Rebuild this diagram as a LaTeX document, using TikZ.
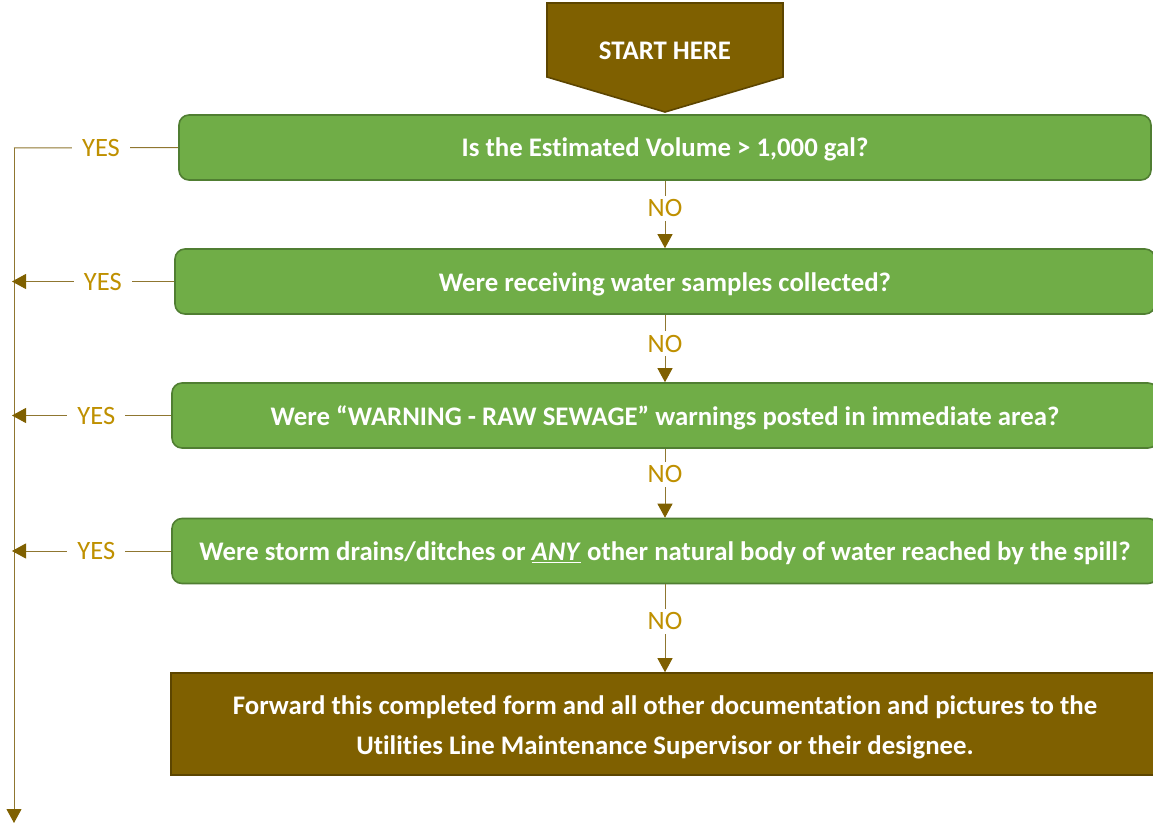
\documentclass[tikz,border=0pt]{standalone}
\usepackage{fontspec}
\setmainfont{Carlito}[Ligatures=NoCommon]
\usetikzlibrary{arrows.meta}

\definecolor{qfill}{HTML}{70AD47}
\definecolor{qedge}{HTML}{507E32}
\definecolor{bfill}{HTML}{7F6000}
\definecolor{bedge}{HTML}{5C4500}
\definecolor{lblgold}{HTML}{BF9000}
\definecolor{wire}{HTML}{8F7630}

\tikzset{
  qbox/.style={draw=qedge, line width=1.6pt, fill=qfill, rounded corners=10pt,
    minimum height=65pt, text=white, font=\fontsize{26.8}{30}\selectfont\bfseries,
    inner sep=0pt, text height=23pt, text depth=4pt},
  endbox/.style={draw=bedge, line width=1.6pt, fill=bfill, minimum height=102pt,
    text=white, font=\fontsize{26.8}{40}\selectfont\bfseries, align=center, inner sep=0pt,
    text height=65.2pt, text depth=4pt},
  conn/.style={draw=wire, line width=1pt,
    -{Triangle[length=14pt,width=15pt,color=bfill]}},
  wirebare/.style={draw=wire, line width=1pt},
  choice/.style={fill=white, text=lblgold, font=\fontsize{26.5}{30}\selectfont,
    inner xsep=10pt, inner ysep=2pt},
}

\begin{document}
\begin{tikzpicture}[x=1pt,y=-1pt]
\useasboundingbox (0,0) rectangle (1153,824);
\clip (0,0) rectangle (1153,824);

% start banner
\draw[draw=bedge, line width=1.6pt, fill=bfill]
  (547,3) -- (783,3) -- (783,77) -- (665,112) -- (547,77) -- cycle;
\node[text=white, font=\fontsize{26.8}{30}\selectfont\bfseries] (start) at (665,51) {START HERE};

% decision boxes
\node[qbox, minimum width=972pt] (q1) at (665,147.5) {Is the Estimated Volume > 1,000 gal?};
\node[qbox, minimum width=980pt] (q2) at (665,281.5) {Were receiving water samples collected?};
\node[qbox, minimum width=986pt] (q3) at (665,415.5) {Were “WARNING - RAW SEWAGE” warnings posted in immediate area?};
\node[qbox, minimum width=986pt] (q4) at (665,551) {Were storm drains/ditches or \underline{\textit{ANY}} other natural body of water reached by the spill?};

% final instruction
\node[endbox, minimum width=988pt] (done) at (665,724) {Forward this completed form and all other documentation and pictures to the\\Utilities Line Maintenance Supervisor or their designee.};

% rail on the left
\coordinate (railtop) at (14,148);
\coordinate (railend) at (14,823);

% NO connectors
\draw[conn] (q1.south) -- node[choice, pos=0.41, inner xsep=2pt, inner ysep=4pt] {NO} (q2.north);
\draw[conn] (q2.south) -- node[choice, pos=0.43, inner xsep=2pt, inner ysep=4pt] {NO} (q3.north);
\draw[conn] (q3.south) -- node[choice, pos=0.37, inner xsep=2pt, inner ysep=4pt] {NO} (q4.north);
\draw[conn] (q4.south) -- node[choice, pos=0.42, inner xsep=2pt, inner ysep=4pt] {NO} (done.north);

% YES connectors
\draw[conn] (railtop) -- (railend);
\draw[wirebare] (q1.west) -- node[choice, pos=0.47] {YES} (railtop);
\draw[conn] (q2.west) -- node[choice, pos=0.44] {YES} (q2.west -| 12,0);
\draw[conn] (q3.west) -- node[choice, pos=0.47] {YES} (q3.west -| 12,0);
\draw[conn] (q4.west) -- node[choice, pos=0.47] {YES} (q4.west -| 12,0);
\end{tikzpicture}
\end{document}
